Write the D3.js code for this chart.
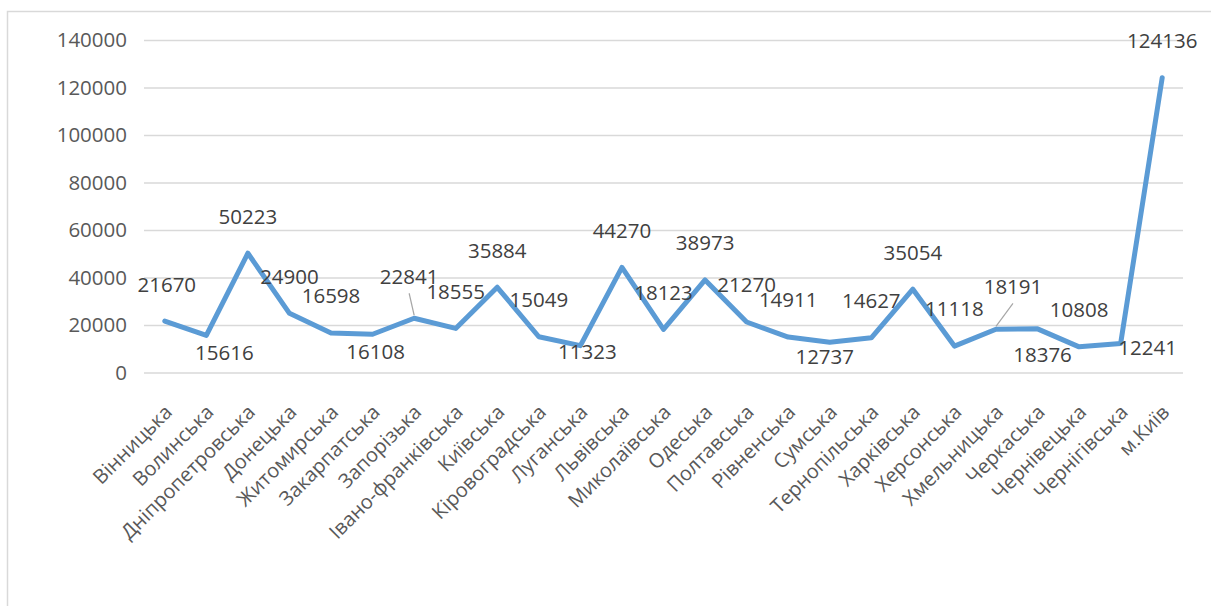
<!DOCTYPE html>
<html>
<head>
<meta charset="utf-8">
<script src="https://cdn.jsdelivr.net/npm/d3@7"></script>
<style>
  html, body { margin: 0; padding: 0; background: #fff; }
  svg { display: block; }
</style>
</head>
<body>
<svg id="chart" width="1211" height="606"></svg>
<script>
// Regions of Ukraine
const regions = [
  "Вінницька", "Волинська", "Дніпропетровська", "Донецька", "Житомирська",
  "Закарпатська", "Запорізька", "Івано-франківська", "Київська", "Кіровоградська",
  "Луганська", "Львівська", "Миколаївська", "Одеська", "Полтавська",
  "Рівненська", "Сумська", "Тернопільська", "Харківська", "Херсонська",
  "Хмельницька", "Черкаська", "Чернівецька", "Чернігівська", "м.Київ"
];

const values = [
  21670, 15616, 50223, 24900, 16598,
  16108, 22841, 18555, 35884, 15049,
  11323, 44270, 18123, 38973, 21270,
  14911, 12737, 14627, 35054, 11118,
  18191, 18376, 10808, 12241, 124136
];

const yTicks = [0, 20000, 40000, 60000, 80000, 100000, 120000, 140000];

// Label centre offsets from each point (default: above the line)
const above = [0, -37];
const labelOffsets = [
  [2, -36], [18, 17], above, above, above,
  [3, 17], [-5, -42], above, above, above,
  [7, 6], above, above, above, above,
  above, [-5, 14], above, above, above,
  [17, -43], [5, 26], above, [27, 4], above
];
// Labels that sit away from their point get a thin leader line
const leaderIdx = [6, 20];

const FONT = "'Open Sans', 'Liberation Sans', sans-serif";
const svg = d3.select("#chart");

// outer frame
svg.append("rect")
  .attr("x", 7.5).attr("y", 11.5)
  .attr("width", 1220).attr("height", 620)
  .attr("fill", "none").attr("stroke", "#d9d9d9").attr("stroke-width", 1.5);

const plotLeft = 144, plotRight = 1183, plotTop = 40, plotBottom = 372.5;

const x = d3.scalePoint().domain(regions).range([plotLeft, plotRight]).padding(0.5);
const y = d3.scaleLinear().domain([0, 140000]).range([plotBottom, plotTop]);

// gridlines + y labels
const yAxis = d3.axisLeft(y).tickValues(yTicks).tickSize(-(plotRight - plotLeft)).tickPadding(17)
  .tickFormat(d3.format("d"));
const gy = svg.append("g").attr("transform", `translate(${plotLeft},0)`).call(yAxis);
gy.select(".domain").remove();
gy.selectAll(".tick line").attr("stroke", "#d9d9d9").attr("stroke-width", 1.5);
gy.selectAll(".tick text")
  .attr("fill", "#595959").style("font-family", FONT).style("font-size", "20.5px");

// category labels, rotated
const xAxis = d3.axisBottom(x).tickSize(0).tickPadding(0);
const gx = svg.append("g").attr("transform", `translate(0,${plotBottom})`).call(xAxis);
gx.select(".domain").remove();
gx.selectAll(".tick text")
  .attr("fill", "#595959").style("font-family", FONT).style("font-size", "20px")
  .attr("text-anchor", "end")
  .attr("dy", null).attr("y", null)
  .attr("transform", "translate(8,41) rotate(-45)");

// the line
const line = d3.line().x((d, i) => x(regions[i])).y(d => y(d));
svg.append("path")
  .datum(values)
  .attr("d", line)
  .attr("fill", "none")
  .attr("stroke", "#5b9bd5")
  .attr("stroke-width", 5)
  .attr("stroke-linejoin", "round")
  .attr("stroke-linecap", "round");

// leader lines from a label down to its point
svg.append("g").selectAll("line")
  .data(leaderIdx)
  .join("line")
  .attr("x1", i => x(regions[i]) + labelOffsets[i][0])
  .attr("y1", i => y(values[i]) + labelOffsets[i][1] + 17)
  .attr("x2", i => x(regions[i]))
  .attr("y2", i => y(values[i]) - 3)
  .attr("stroke", "#a6a6a6").attr("stroke-width", 1.2);

// data labels
svg.append("g").selectAll("text")
  .data(values)
  .join("text")
  .attr("x", (d, i) => x(regions[i]) + labelOffsets[i][0])
  .attr("y", (d, i) => y(d) + labelOffsets[i][1])
  .attr("dy", "0.36em")
  .attr("text-anchor", "middle")
  .attr("fill", "#404040")
  .style("font-family", FONT).style("font-size", "20.5px")
  .text(d => d);
</script>
</body>
</html>
